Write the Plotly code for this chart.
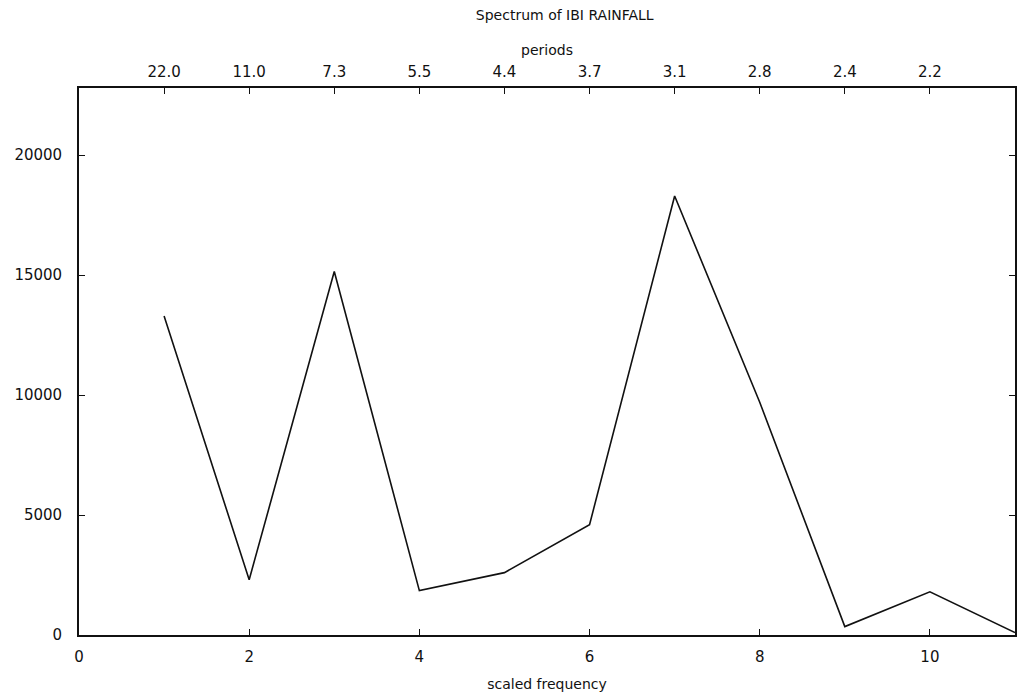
import plotly.graph_objects as go

# Data
scaled_frequency = [1, 2, 3, 4, 5, 6, 7, 8, 9, 10, 11]
spectrum = [13300, 2300, 15150, 1850, 2600, 4600, 18300, 9700, 350, 1800, 100]
period_ticks = [1, 2, 3, 4, 5, 6, 7, 8, 9, 10]
period_labels = ["22.0", "11.0", "7.3", "5.5", "4.4", "3.7", "3.1", "2.8", "2.4", "2.2"]
y_ticks = [0, 5000, 10000, 15000, 20000]
x_ticks = [0, 2, 4, 6, 8, 10]

FONT = "DejaVu Sans"
INK = "#111111"

fig = go.Figure()
fig.add_trace(go.Scatter(
    x=scaled_frequency, y=spectrum, mode="lines",
    line=dict(color=INK, width=1.6), showlegend=False, hoverinfo="x+y",
))
# invisible companion trace so the top (periods) axis is drawn
fig.add_trace(go.Scatter(
    x=scaled_frequency, y=spectrum, mode="lines", xaxis="x2",
    line=dict(color="rgba(0,0,0,0)", width=0), showlegend=False, hoverinfo="skip",
))

axis_common = dict(
    showgrid=False, zeroline=False, showline=True, linecolor=INK, linewidth=1.7,
    ticks="inside", ticklen=6, tickwidth=1.4, tickcolor=INK,
    tickfont=dict(family=FONT, size=15, color=INK),
)

fig.update_layout(
    width=1027, height=700,
    margin=dict(l=79, r=10, t=88, b=64),
    paper_bgcolor="white", plot_bgcolor="white",
    font=dict(family=FONT, color=INK),
    title=dict(
        text="Spectrum of IBI RAINFALL",
        font=dict(family=FONT, size=14, color=INK),
        x=533 / 1027, xanchor="center", xref="paper",
        y=1 - 15 / 700, yanchor="middle", yref="container",
    ),
    xaxis=dict(
        range=[0, 11], tickvals=x_ticks, ticktext=[str(v) for v in x_ticks],
        mirror=False, ticklabelstandoff=7,
        title=dict(text="scaled frequency", font=dict(family=FONT, size=14, color=INK), standoff=14),
        **axis_common,
    ),
    xaxis2=dict(
        range=[0, 11], overlaying="x", side="top", anchor="y",
        tickvals=period_ticks, ticktext=period_labels, ticklabelstandoff=3,
        title=dict(text="periods", font=dict(family=FONT, size=14, color=INK), standoff=4),
        **axis_common,
    ),
    yaxis=dict(
        range=[0, 22800], tickvals=y_ticks, ticktext=[str(v) for v in y_ticks],
        mirror="ticks", ticklabelstandoff=12,
        **axis_common,
    ),
)

fig.write_html("out.html")
